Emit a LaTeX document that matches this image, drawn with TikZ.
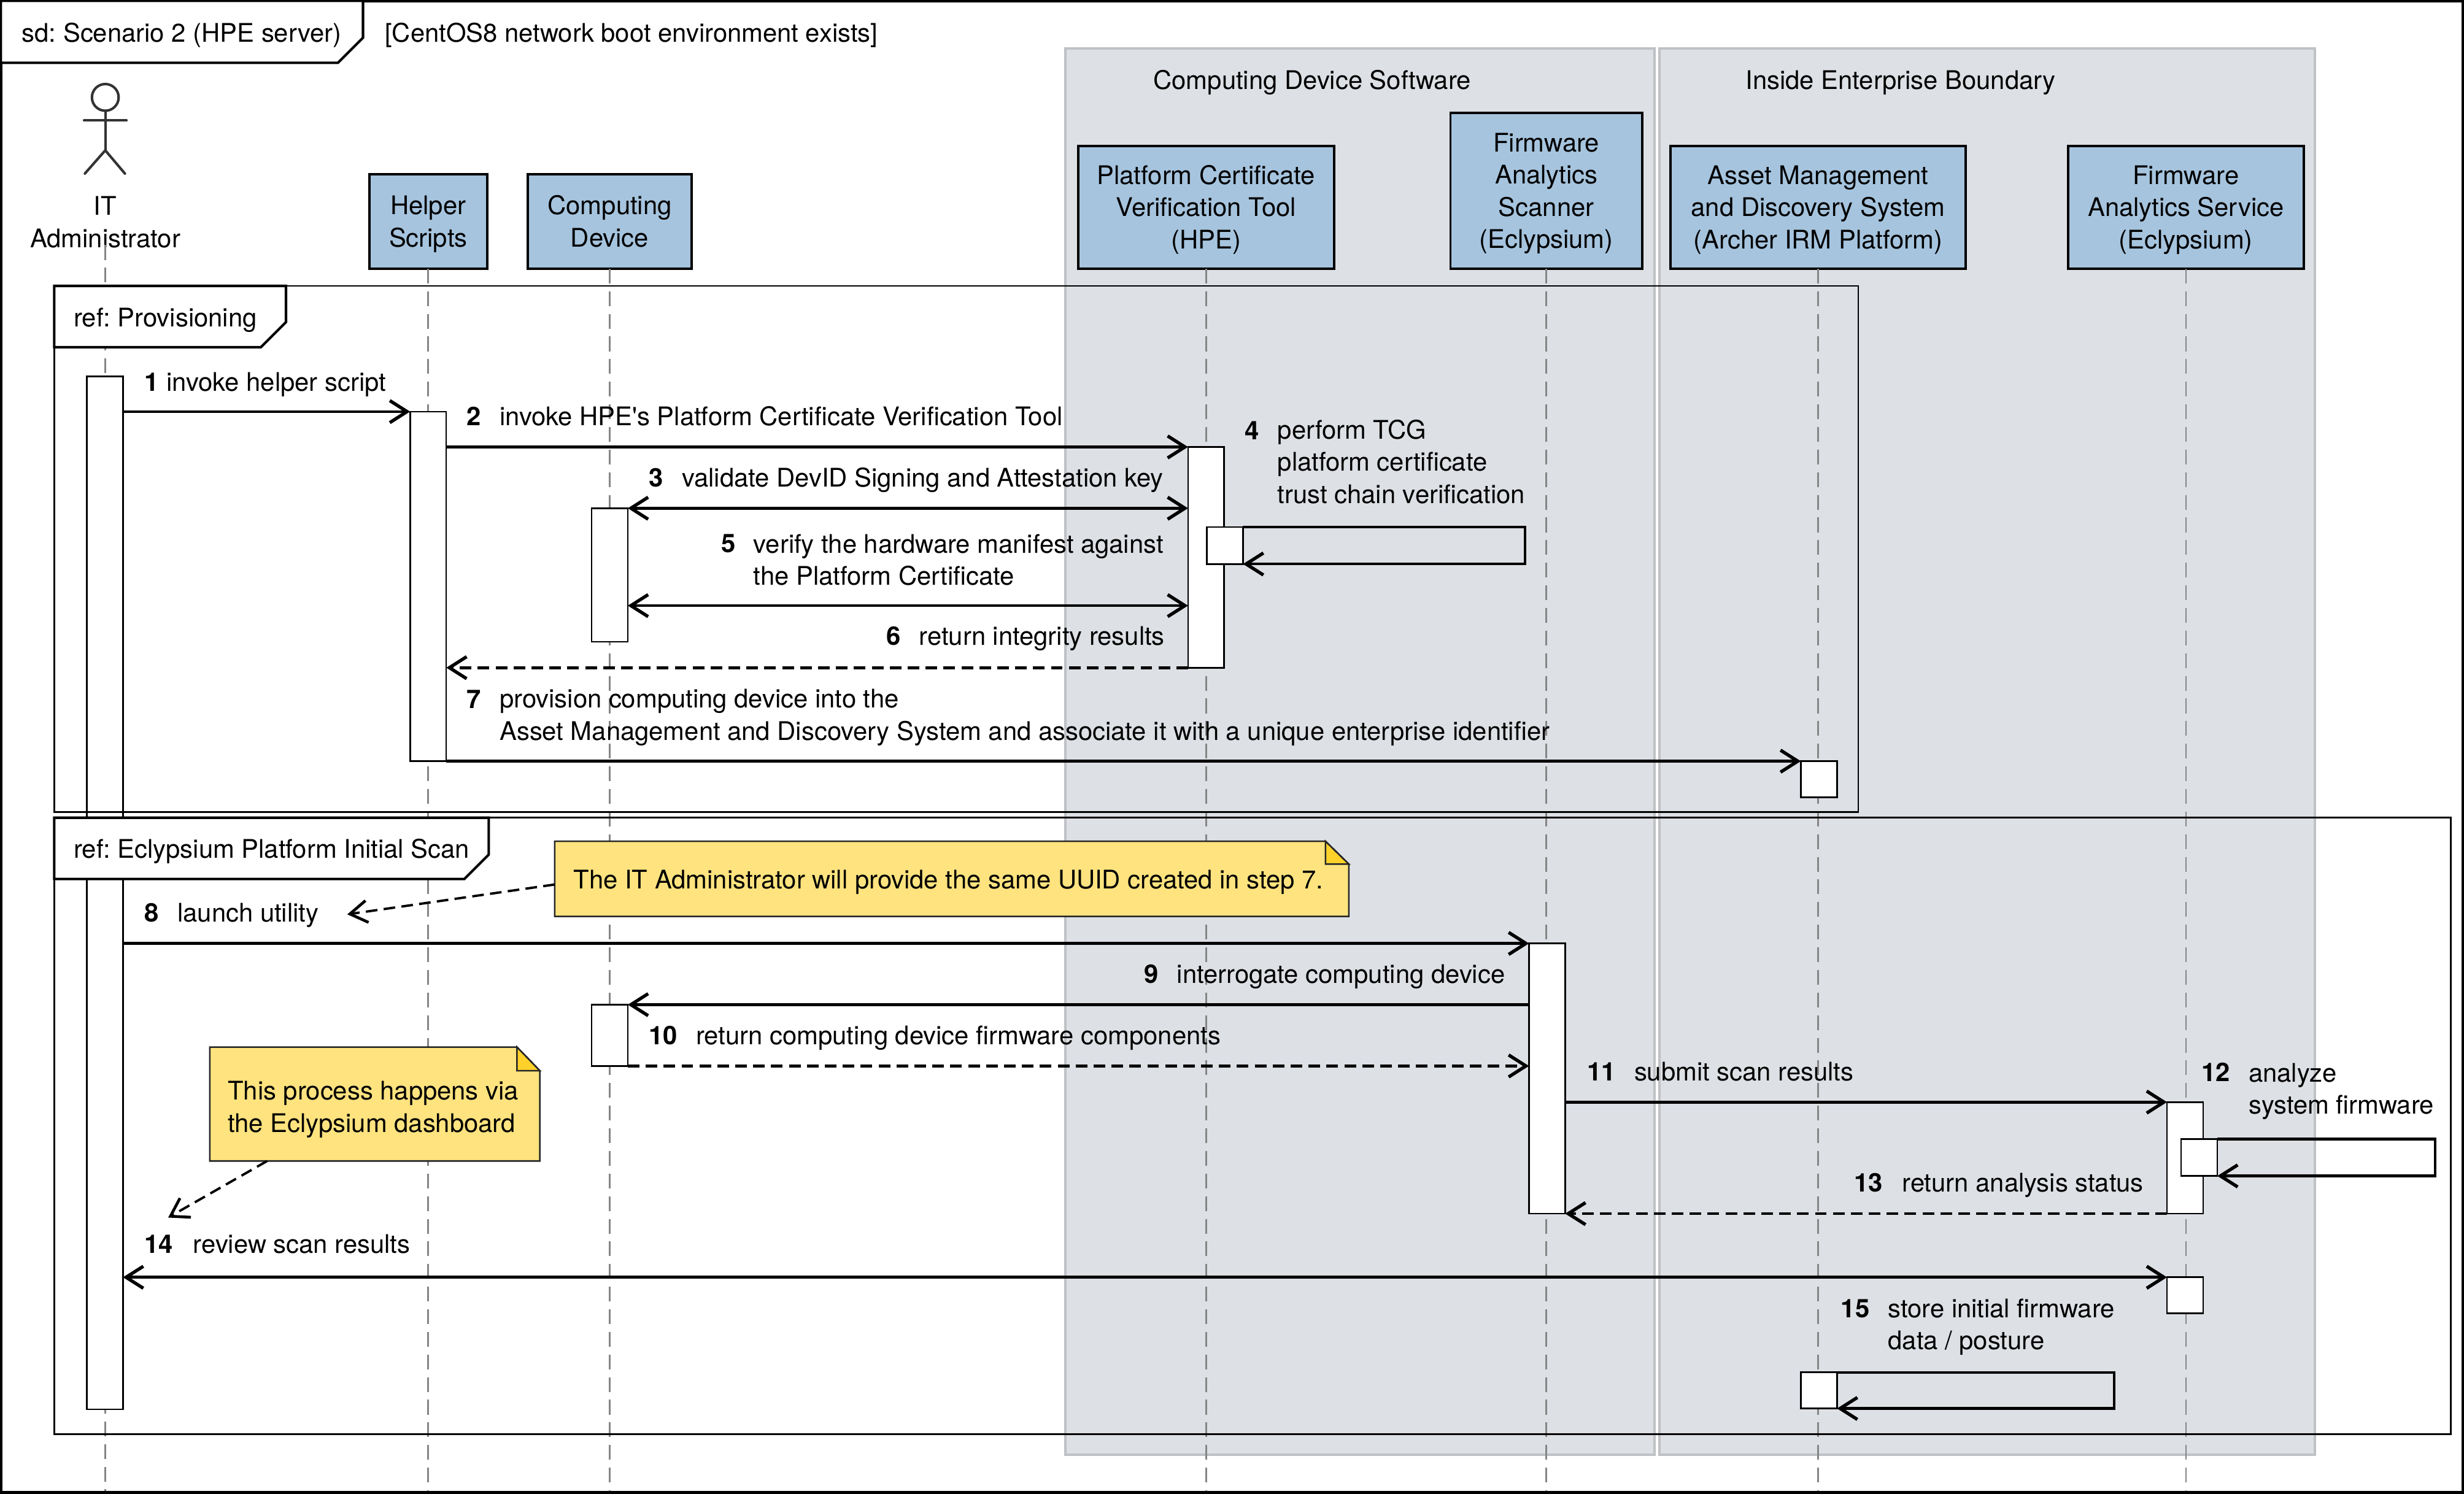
\documentclass[tikz,border=0pt]{standalone}
\usepackage{fontspec}
\setmainfont{TeX Gyre Heros}
\usetikzlibrary{arrows.meta}
\definecolor{partblue}{HTML}{A6C4DE}
\definecolor{grpfill}{HTML}{DDE0E5}
\definecolor{grpline}{HTML}{BFC1C4}
\definecolor{notefill}{HTML}{FEE37F}
\definecolor{foldfill}{HTML}{FED12B}
\definecolor{lifegray}{HTML}{858585}
\newcommand{\st}{\rule[-1.8pt]{0pt}{5pt}}
\newcommand{\ft}{\rule[-1.8pt]{0pt}{9.4pt}}

\begin{document}
\frenchspacing
\begin{tikzpicture}[x=0.5pt,y=-0.5pt,
    every node/.style={inner sep=0pt,outer sep=0pt,font=\fontsize{8.16}{10.25}\selectfont,execute at begin node=\ft}]
  \tikzstyle{Grp}=[draw=grpline,fill=grpfill,line width=0.8pt,minimum height=447.5pt]
  \tikzstyle{Part}=[draw=black,fill=partblue,line width=0.75pt,align=center]
  \tikzstyle{Life}=[draw=lifegray,line width=0.5pt,dash pattern=on 4.7pt off 2.5pt]
  \tikzstyle{Act}=[draw=black,fill=white,line width=0.5pt,minimum width=11.5pt]
  \tikzstyle{Frame}=[draw=black,line width=0.55pt]
  \tikzstyle{Tab}=[draw=black,fill=white,line width=0.8pt]
  \tikzstyle{Msg}=[draw=black,line width=0.9pt,-{Straight Barb[length=5.5pt,width=7pt,line width=1.05pt]}]
  \tikzstyle{Both}=[draw=black,line width=0.9pt,{Straight Barb[length=5.5pt,width=7pt,line width=1.05pt]}-{Straight Barb[length=5.5pt,width=7pt,line width=1.05pt]}]
  \tikzstyle{Ret}=[Msg,dash pattern=on 3.7pt off 2pt]
  \tikzstyle{Self}=[draw=black,line width=0.85pt,-{Straight Barb[length=5.5pt,width=7pt,line width=1.05pt]}]
  \tikzstyle{Note}=[draw=black!85,fill=notefill,line width=0.5pt]
  \tikzstyle{Fold}=[draw=black!85,fill=foldfill,line width=0.5pt]
  \tikzstyle{NoteTxt}=[align=left,anchor=west]
  \tikzstyle{NoteArr}=[draw=black,line width=0.75pt,dash pattern=on 3.7pt off 2pt,-{Straight Barb[length=5.5pt,width=7pt,line width=0.9pt]}]
  \tikzstyle{Num}=[anchor=west,font=\fontsize{8.16}{10.25}\selectfont\bfseries]
  \tikzstyle{Lbl}=[anchor=west,align=left]
  \tikzstyle{Actor}=[draw=black!80,line width=0.8pt,line cap=round]

  \useasboundingbox (0,0) rectangle (1568,950.6);

  % groups
  \node[Grp,minimum width=187.5pt] (cdsoft) at (865.5,478.5) {};
  \node[Grp,minimum width=208.5pt] (entbound) at (1264.5,478.5) {};
  \node (cdsofttxt) at (835,51) {Computing Device Software};
  \node (entboundtxt) at (1209.5,51) {Inside Enterprise Boundary};

  % participants
  \node[align=center] (admin) at (67,141.5) {\ft IT\\\st Administrator};
  \node[Part,minimum width=37.5pt,minimum height=30pt] (helper) at (272.5,141) {\ft Helper\\\st Scripts};
  \node[Part,minimum width=52pt,minimum height=30pt] (cd) at (388,141) {\ft Computing\\\st Device};
  \node[Part,minimum width=81.5pt,minimum height=39pt] (pcv) at (767.5,132) {\ft Platform Certificate\\Verification Tool\\\st (HPE)};
  \node[Part,minimum width=61pt,minimum height=49.5pt] (scan) at (984,121.5) {\ft Firmware\\Analytics\\Scanner\\\st (Eclypsium)};
  \node[Part,minimum width=94pt,minimum height=39pt] (asset) at (1157,132) {\ft Asset Management\\and Discovery System\\\st (Archer IRM Platform)};
  \node[Part,minimum width=75pt,minimum height=39pt] (fas) at (1391,132) {\ft Firmware\\Analytics Service\\\st (Eclypsium)};

  % actor
  \draw[Actor] (67,62) circle (8.5);
  \coordinate (neck) at (67,70.5);
  \coordinate (hip) at (67,95.7);
  \draw[Actor] (neck) -- (hip);
  \draw[Actor] (53.5,76.7) -- (80.5,76.7);
  \draw[Actor] (54,110.5) -- (hip) -- (79.5,110.5);

  % lifelines
  \coordinate (bot) at (0,950.6);
  \coordinate (adminlife) at (67,156);
  \draw[Life] (adminlife) -- (adminlife |- bot);
  \draw[Life] (helper.south) -- (helper.south |- bot);
  \draw[Life] (cd.south) -- (cd.south |- bot);
  \draw[Life] (pcv.south) -- (pcv.south |- bot);
  \draw[Life] (scan.south) -- (scan.south |- bot);
  \draw[Life] (asset.south) -- (asset.south |- bot);
  \draw[Life] (fas.south) -- (fas.south |- bot);

  % activations
  \node[Act,minimum height=328.75pt] (adminact) at (66.75,568.25) {};
  \node[Act,minimum height=111.25pt] (helperact) at (272.5,373.25) {};
  \node[Act,minimum height=42.5pt] (cdact) at (388,366) {};
  \node[Act,minimum height=70.25pt] (pcvact) at (767.5,354.75) {};
  \node[Act,minimum height=11.75pt] (pcvself) at (779.5,347.25) {};
  \node[Act,minimum height=11.5pt] (assetact) at (1157.5,496) {};
  \node[Act,minimum height=86pt] (scanact) at (984.5,686.5) {};
  \node[Act,minimum height=19.5pt] (cdactb) at (388,659) {};
  \node[Act,minimum height=35.5pt] (fasact) at (1390.5,737) {};
  \node[Act,minimum height=11.75pt] (fasself) at (1399.5,736.75) {};
  \node[Act,minimum height=11.5pt] (fasactb) at (1390.5,824.5) {};
  \node[Act,minimum height=11.5pt] (assetactb) at (1157.5,885) {};

  % outer frame and ref frames
  \draw[draw=black,line width=0.9pt] (0.5,0.5) rectangle (1567.5,950);
  \node[Frame,minimum width=574pt,minimum height=167.5pt] (prov) at (608.5,349.5) {};
  \node[Frame,minimum width=762.5pt,minimum height=196.25pt] (ecly) at (797,716.75) {};

  \draw[Tab] (0.5,0.5) -- (231,0.5) -- (231,24) -- (215,40) -- (0.5,40) -- cycle;
  \draw[Tab] (34.5,182) -- (182,182) -- (182,205) -- (166,221) -- (34.5,221) -- cycle;
  \draw[Tab] (34.5,520.5) -- (311,520.5) -- (311,544) -- (295.5,559.5) -- (34.5,559.5) -- cycle;
  \node[anchor=west] (sdtxt) at (14,21) {sd: Scenario 2 (HPE server)};
  \node[anchor=west] (guard) at (245,21) {[CentOS8 network boot environment exists]};
  \node[anchor=west] (provtxt) at (47,202) {ref: Provisioning};
  \node[anchor=west] (eclytxt) at (47,540.5) {ref: Eclypsium Platform Initial Scan};

  % notes
  \draw[Note] (353,535.5) -- (843.5,535.5) -- (858.3,550) -- (858.3,583.3) -- (353,583.3) -- cycle;
  \draw[Fold] (843.5,535.5) -- (858.3,550) -- (843.5,550) -- cycle;
  \draw[Note] (133.5,666.5) -- (329,666.5) -- (343.5,681.5) -- (343.5,739) -- (133.5,739) -- cycle;
  \draw[Fold] (329,666.5) -- (343.5,681.5) -- (329,681.5) -- cycle;
  \node[NoteTxt] (notea) at (365,560) {The IT Administrator will provide the same UUID created in step 7.};
  \node[NoteTxt] (noteb) at (145,704.5) {\ft This process happens via\\\st the Eclypsium dashboard};
  \coordinate (launchend) at (221,582);
  \coordinate (reviewend) at (107,775);
  \coordinate (noteastart) at (353,563);
  \coordinate (notebstart) at (170,739);
  \draw[NoteArr] (noteastart) -- (launchend);
  \draw[NoteArr] (notebstart) -- (reviewend);

  % messages
  \coordinate (msgfive) at (0,385.5);
  \coordinate (loopfour) at (970.5,0);
  \coordinate (looptwelve) at (1549.5,0);
  \coordinate (loopfifteen) at (1345.5,0);
  \draw[Msg] (adminact.east |- helperact.north) -- (helperact.north west);
  \draw[Msg] (helperact.east |- pcvact.north) -- (pcvact.north west);
  \draw[Both] (cdact.north east) -- (pcvact.west |- cdact.north);
  \draw[Self] (pcvself.north east) -| (loopfour |- pcvself.south) -- (pcvself.south east);
  \draw[Both] (cdact.east |- msgfive) -- (pcvact.west |- msgfive);
  \draw[Ret] (pcvact.south west) -- (helperact.east |- pcvact.south);
  \draw[Msg] (helperact.south east) -- (assetact.north west);
  \draw[Msg] (adminact.east |- scanact.north) -- (scanact.north west);
  \draw[Msg] (scanact.west |- cdactb.north) -- (cdactb.north east);
  \draw[Ret] (cdactb.south east) -- (scanact.west |- cdactb.south);
  \draw[Msg] (scanact.east |- fasact.north) -- (fasact.north west);
  \draw[Self] (fasself.north east) -| (looptwelve |- fasself.south) -- (fasself.south east);
  \draw[Ret] (fasact.south west) -- (scanact.south east);
  \draw[Both] (adminact.east |- fasactb.north) -- (fasactb.north west);
  \draw[Self] (assetactb.north east) -| (loopfifteen |- assetactb.south) -- (assetactb.south east);

  % message labels
  \node[Num] (na) at (92,243) {1};
  \node[Lbl] (ta) at (106,243) {invoke helper script};
  \node[Num] (nb) at (297,265) {2};
  \node[Lbl] (tb) at (318,265) {invoke HPE\textquotesingle s Platform Certificate Verification Tool};
  \node[Num] (nc) at (413,304) {3};
  \node[Lbl] (tc) at (434,304) {validate DevID Signing and Attestation key};
  \node[Num] (nd) at (792,274) {4};
  \node[Lbl] (td) at (813,294) {\ft perform TCG\\platform certificate\\\st trust chain verification};
  \node[Num] (ne) at (459,346) {5};
  \node[Lbl] (te) at (479.5,356.5) {\ft verify the hardware manifest against\\\st the Platform Certificate};
  \node[Num] (nf) at (564,405) {6};
  \node[Lbl] (tf) at (585,405) {return integrity results};
  \node[Num] (ng) at (297,445) {7};
  \node[Lbl] (tg) at (318,455) {\ft provision computing device into the\\\st Asset Management and Discovery System and associate it with a unique enterprise identifier};
  \node[Num] (nh) at (92,581) {8};
  \node[Lbl] (th) at (113,581) {launch utility};
  \node[Num] (ni) at (728,620) {9};
  \node[Lbl] (ti) at (749,620) {interrogate computing device};
  \node[Num] (nj) at (413,659) {10};
  \node[Lbl] (tj) at (443,659) {return computing device firmware components};
  \node[Num] (nk) at (1010,682) {11};
  \node[Lbl] (tk) at (1040,682) {submit scan results};
  \node[Num] (nl) at (1401,682.5) {12};
  \node[Lbl] (tl) at (1431,693) {\ft analyze\\\st system firmware};
  \node[Num] (nm) at (1180,753) {13};
  \node[Lbl] (tm) at (1210.5,753) {return analysis status};
  \node[Num] (nn) at (92,792) {14};
  \node[Lbl] (tn) at (123,792) {review scan results};
  \node[Num] (no) at (1171.5,833) {15};
  \node[Lbl] (to) at (1201.5,843) {\ft store initial firmware\\\st data / posture};
\end{tikzpicture}
\end{document}
